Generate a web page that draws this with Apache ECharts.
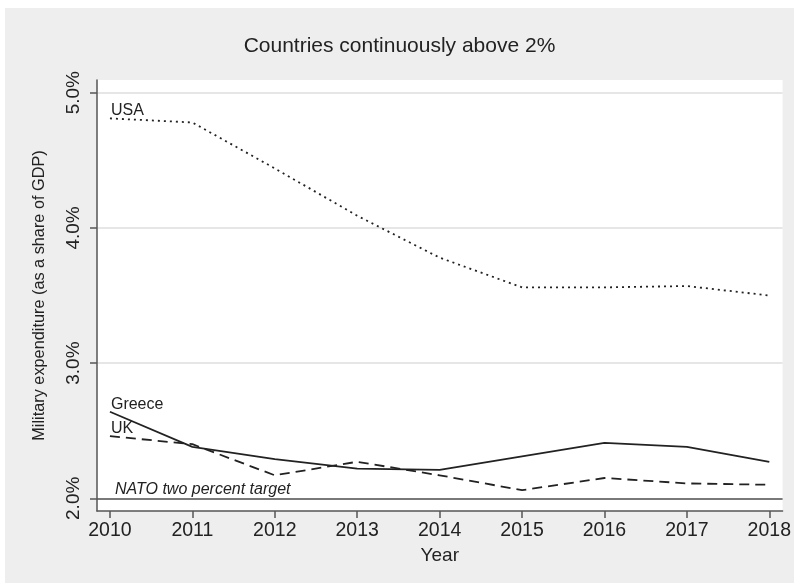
<!DOCTYPE html>
<html>
<head>
<meta charset="utf-8">
<script src="https://cdn.jsdelivr.net/npm/echarts@6/dist/echarts.min.js"></script>
<style>
  html, body { margin: 0; padding: 0; background: #ffffff; }
  #chart { position: absolute; left: 5px; top: 8px; width: 789px; height: 575px; }
</style>
</head>
<body>
<div id="chart"></div>
<script>
// Military expenditure as a share of GDP (%), countries always above 2%
const years = [2010, 2011, 2012, 2013, 2014, 2015, 2016, 2017, 2018];
const usa = [4.81, 4.78, 4.44, 4.09, 3.78, 3.56, 3.56, 3.57, 3.50];
const greece = [2.64, 2.38, 2.29, 2.22, 2.21, 2.31, 2.41, 2.38, 2.27];
const uk = [2.46, 2.40, 2.17, 2.27, 2.17, 2.06, 2.15, 2.11, 2.10];
const yTicks = [2, 3, 4, 5];
const natoTarget = 2.0;

const ink = '#222222';
const font = 'Liberation Sans, Arial, sans-serif';

// pair years with values; the first point carries the country name
function seriesData(values, name, dy) {
  return values.map((v, i) => {
    if (i !== 0) return [years[i], v];
    return {
      value: [years[i], v],
      label: {
        show: true, formatter: name, position: [1, dy],
        align: 'left', verticalAlign: 'middle',
        fontSize: 16, color: ink, fontFamily: font
      }
    };
  });
}

function lineSeries(name, values, type, dy) {
  return {
    name: name, type: 'line',
    data: seriesData(values, name, dy),
    symbol: 'circle', symbolSize: 0, showSymbol: true,
    lineStyle: { color: ink, width: 1.8, type: type },
    itemStyle: { color: ink },
    emphasis: { disabled: true },
    silent: true, animation: false, z: 3
  };
}

const chart = echarts.init(document.getElementById('chart'), null, { renderer: 'canvas' });
const greeceSeries = lineSeries('Greece', greece, 'solid', -7);
greeceSeries.markLine = {
  silent: true, symbol: 'none', animation: false,
  data: [{ yAxis: natoTarget }],
  lineStyle: { color: '#555555', width: 1.5, type: 'solid' },
  label: {
    show: true, position: 'insideStartTop', formatter: 'NATO two percent target',
    fontStyle: 'italic', fontSize: 16, color: ink, fontFamily: font,
    distance: [18, 1]
  }
};

chart.setOption({
  backgroundColor: '#eeeeee',
  animation: false,
  title: {
    text: 'Countries continuously above 2%',
    left: 'center', top: 23,
    textStyle: { fontSize: 21, fontWeight: 'normal', color: ink, fontFamily: font }
  },
  grid: {
    left: 92, top: 72, right: 8, bottom: 72,
    show: true, backgroundColor: '#ffffff', borderWidth: 0
  },
  xAxis: {
    type: 'value', min: 2009.843, max: 2018.161,
    name: 'Year', nameLocation: 'middle', nameGap: 29,
    nameTextStyle: { fontSize: 19, color: ink, fontFamily: font },
    axisLine: { show: true, lineStyle: { color: '#555555', width: 1.5 } },
    axisTick: { show: true, length: 7, customValues: years, lineStyle: { color: '#555555', width: 1.5 } },
    axisLabel: { customValues: years, fontSize: 19.5, color: ink, fontFamily: font, margin: 10, formatter: v => String(v) },
    splitLine: { show: false }
  },
  yAxis: {
    type: 'value', min: 1.906, max: 5.094,
    name: 'Military expenditure (as a share of GDP)', nameLocation: 'middle', nameGap: 49,
    nameTextStyle: { fontSize: 16.3, color: ink, fontFamily: font },
    axisLine: { show: true, lineStyle: { color: '#555555', width: 1.5 } },
    axisTick: { show: true, length: 7, customValues: yTicks, lineStyle: { color: '#555555', width: 1.5 } },
    axisLabel: {
      customValues: yTicks, rotate: 90, fontSize: 19, color: ink, fontFamily: font, margin: 14,
      formatter: v => v.toFixed(1) + '%'
    },
    splitLine: { show: true, lineStyle: { color: '#e6e6e6', width: 2 } }
  },
  series: [
    lineSeries('USA', usa, [2, 4], -8),
    greeceSeries,
    lineSeries('UK', uk, [10, 6], -8)
  ]
});
</script>
</body>
</html>
